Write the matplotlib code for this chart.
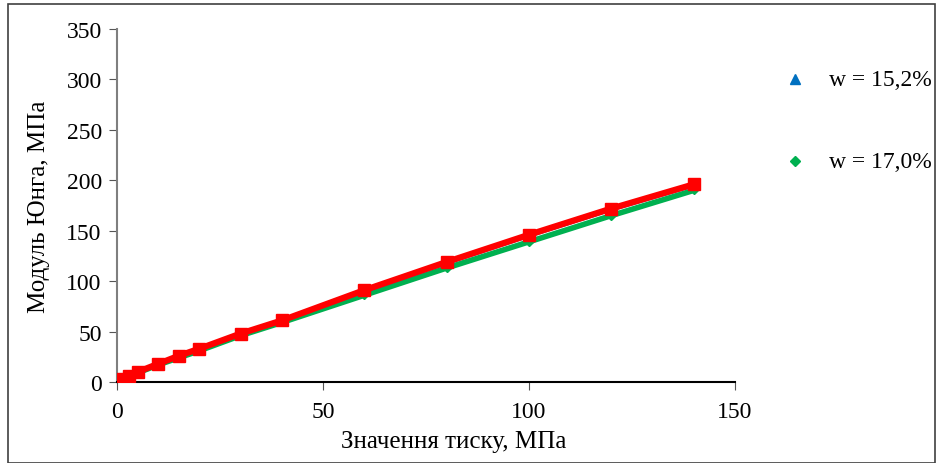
import matplotlib.pyplot as plt
from matplotlib.lines import Line2D
from matplotlib.patches import Rectangle

plt.rcParams["font.family"] = ["Liberation Serif", "DejaVu Serif"]

pressure = [1, 3, 5, 10, 15, 20, 30, 40, 60, 80, 100, 120, 140]
e_152 = [2.5, 5.5, 9.5, 17.5, 25, 32, 47, 60, 89, 117, 144, 170, 194]
e_170 = [2, 5, 9, 17, 24, 31, 46, 59, 86, 113, 139, 165, 190]
e_red = [3, 6, 10, 18, 26, 33, 48, 61, 91, 119, 146, 172, 196]

labels = ["w = 15,2%", "w = 17,0%"]

fig = plt.figure(figsize=(9.37, 4.64), dpi=100)
ax = fig.add_axes([0.1249, 0.1746, 0.6595, 0.7607])

ax.plot(pressure, e_170, color="#00b050", lw=4, marker="D", ms=4, zorder=2)
ax.plot(pressure, e_152, color="#0070c0", lw=1.5, marker="^", ms=5, zorder=3)
ax.plot(pressure, e_red, color="#ff0000", lw=4.5, marker="s", ms=9, zorder=4)

ax.set_xlim(0, 150)
ax.set_ylim(0, 350)
ax.set_xticks([0, 50, 100, 150])
ax.set_yticks(range(0, 351, 50))
ax.tick_params(labelsize=17, direction="out", length=6, color="#555555")
ax.tick_params(axis="x", pad=8)
ax.tick_params(axis="y", pad=5)
ax.spines["top"].set_visible(False)
ax.spines["right"].set_visible(False)
ax.spines["left"].set_color("#7f7f7f")
ax.spines["left"].set_linewidth(1.5)
ax.spines["bottom"].set_color("black")
ax.spines["bottom"].set_linewidth(1.5)
ax.set_xlabel("Значення тиску, МПа", fontsize=18)
ax.xaxis.set_label_coords(0.544, -0.135)
ax.set_ylabel("Модуль Юнга, МПа", fontsize=18, labelpad=12)

# legend drawn by hand, markers only
for yy, mk, col, ms, lab in [(80, "^", "#0070c0", 7, labels[0]),
                             (162, "D", "#00b050", 5, labels[1])]:
    fy = 1 - yy / 464
    fig.add_artist(Line2D([795 / 937], [fy], marker=mk, color=col, ms=ms,
                          ls="none", transform=fig.transFigure))
    fig.text(829 / 937, fy, lab, fontsize=17, va="center", ha="left")

fig.add_artist(Rectangle((8 / 937, 0), 927 / 937, 1 - 5 / 464, fill=False,
                         ec="#404040", lw=1.2, transform=fig.transFigure))

fig.savefig("out.png", dpi=100)
